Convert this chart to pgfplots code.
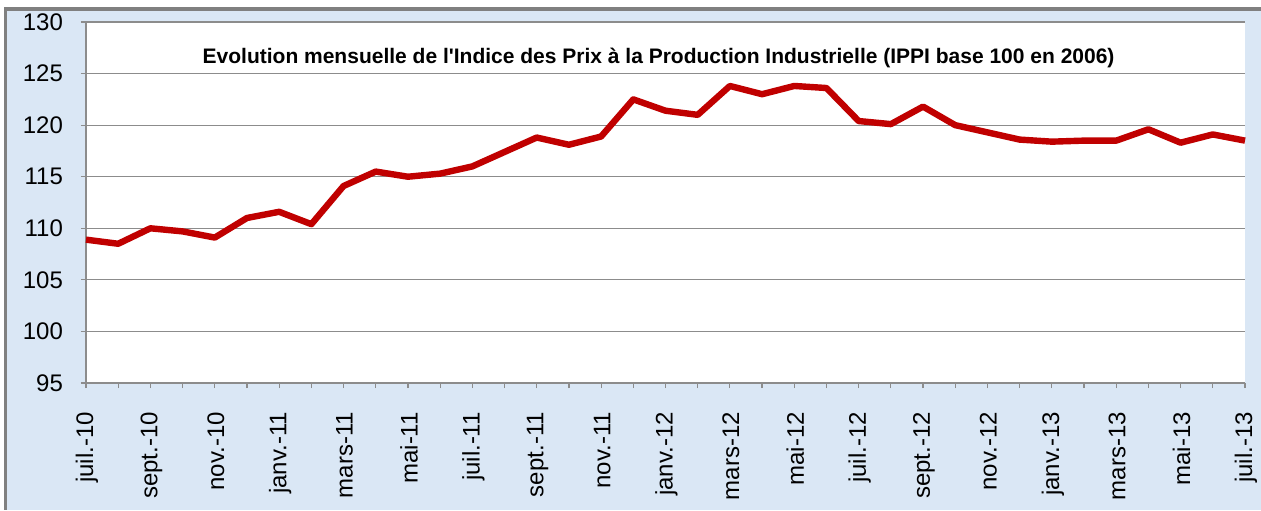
\documentclass[border=0pt]{standalone}
\usepackage{pgfplots}
\pgfplotsset{compat=1.18}
\usepackage{fontspec}
\setmainfont{Liberation Sans}
\newfontfamily\titlefont{Liberation Sans}[Ligatures=ResetAll]
\definecolor{bgblue}{RGB}{218,231,245}
\definecolor{linered}{RGB}{192,0,0}
\definecolor{gridgray}{RGB}{140,140,140}
\definecolor{framegray}{RGB}{128,128,128}
\pgfplotstableread{
x y
0 108.9
1 108.5
2 110.0
3 109.7
4 109.1
5 111.0
6 111.6
7 110.4
8 114.1
9 115.5
10 115.0
11 115.3
12 116.0
13 117.4
14 118.8
15 118.1
16 118.9
17 122.5
18 121.4
19 121.0
20 123.8
21 123.0
22 123.8
23 123.6
24 120.4
25 120.1
26 121.8
27 120.0
28 119.3
29 118.6
30 118.4
31 118.5
32 118.5
33 119.6
34 118.3
35 119.1
36 118.5
}\ippi
\begin{document}
\begin{tikzpicture}[x=1pt,y=1pt]
\fill[white] (-43,-63.5) rectangle (587.5,191.5);
\fill[bgblue] (-41,-63.5) rectangle (587.5,186);
\fill[framegray] (-41,186) rectangle (587.5,188);
\fill[framegray] (-41,-63.5) rectangle (-39.5,188);
\begin{axis}[
  at={(0,0)}, anchor=south west,
  scale only axis, width=579.5pt, height=180.5pt,
  xmin=0, xmax=36, ymin=95, ymax=130,
  ytick={95,100,...,130},
  xtick={0,...,36},
  xticklabels={juil.-10,,sept.-10,,nov.-10,,janv.-11,,mars-11,,mai-11,,juil.-11,,sept.-11,,nov.-11,,janv.-12,,mars-12,,mai-12,,juil.-12,,sept.-12,,nov.-12,,janv.-13,,mars-13,,mai-13,,juil.-13},
  axis x line*=bottom, axis y line*=left,
  axis line style={gridgray, line width=0.6pt},
  tick align=outside, major tick length=2.5pt,
  tick style={gridgray, line width=0.6pt},
  ymajorgrids, grid style={gridgray, line width=0.6pt},
  axis background/.style={fill=white},
  /pgf/number format/assume math mode=true,
  x tick label style={rotate=90, anchor=east, font=\fontsize{12}{12}\selectfont, xshift=-8.5pt, yshift=-0.5pt},
  y tick label style={font=\fontsize{12}{12}\selectfont, xshift=-5.5pt},
  clip=false,
]
\addplot[linered, line width=3.2pt, line join=round] table[x=x,y=y] {\ippi};
\node[font=\titlefont\bfseries\fontsize{10.5}{10.5}\selectfont, anchor=base] at (rel axis cs:0.494,0.886) {Evolution mensuelle de l'Indice des Prix à la Production Industrielle (IPPI base 100 en 2006)};
\end{axis}
\pgfresetboundingbox
\useasboundingbox (-43,-63.5) rectangle (587.5,191.5);
\end{tikzpicture}
\end{document}
